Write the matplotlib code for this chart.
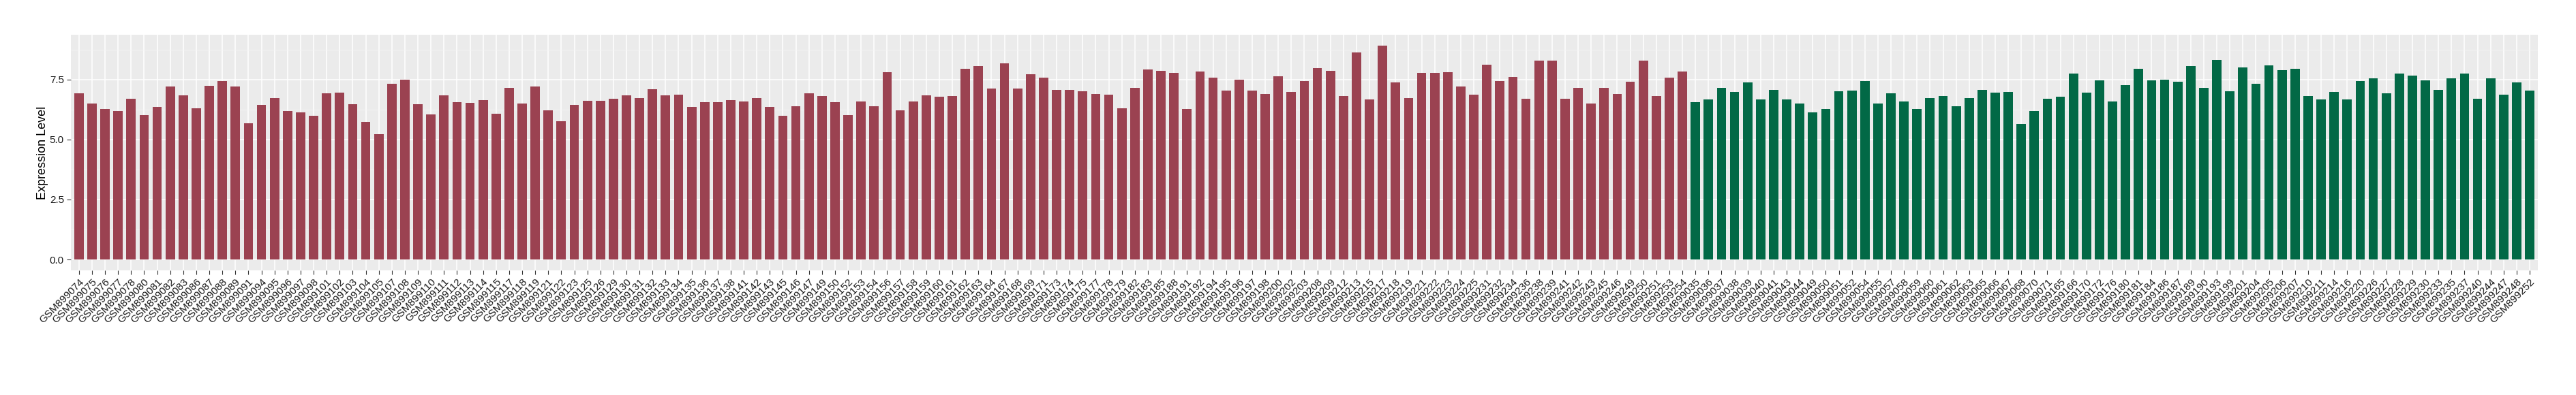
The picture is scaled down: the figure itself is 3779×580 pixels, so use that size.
import numpy as np
import matplotlib.pyplot as plt
from matplotlib.ticker import MultipleLocator

plt.rcParams['font.family'] = ['Liberation Sans', 'DejaVu Sans']

# group 1 (red) sample ids and expression levels
ids_red = ['074', '075', '076', '077', '078', '080', '081', '082', '083', '086', '087',
           '088', '089', '091', '094', '095', '096', '097', '098', '101', '102', '103',
           '104', '105', '107', '108', '109', '110', '111', '112', '113', '114', '115',
           '117', '118', '119', '121', '122', '123', '125', '126', '129', '130', '131',
           '132', '133', '134', '135', '136', '137', '138', '141', '142', '143', '145',
           '146', '147', '149', '150', '152', '153', '154', '156', '157', '158', '159',
           '160', '161', '162', '163', '164', '167', '168', '169', '171', '173', '174',
           '175', '177', '178', '179', '182', '183', '185', '188', '191', '192', '194',
           '195', '196', '197', '198', '200', '202', '203', '208', '209', '212', '213',
           '215', '217', '218', '219', '221', '222', '223', '224', '225', '231', '232',
           '234', '236', '238', '239', '241', '242', '243', '245', '246', '249', '250',
           '251', '253', '254']
vals_red = [6.92, 6.49, 6.26, 6.19, 6.70, 6.02, 6.37, 7.21, 6.85, 6.31, 7.25,
            7.43, 7.21, 5.67, 6.44, 6.74, 6.19, 6.13, 5.98, 6.92, 6.95, 6.46,
            5.72, 5.21, 7.31, 7.49, 6.46, 6.05, 6.85, 6.55, 6.52, 6.64, 6.08,
            7.15, 6.49, 7.21, 6.23, 5.77, 6.44, 6.62, 6.62, 6.70, 6.85, 6.72,
            7.10, 6.85, 6.88, 6.37, 6.56, 6.56, 6.64, 6.59, 6.74, 6.37, 5.98,
            6.38, 6.92, 6.82, 6.56, 6.01, 6.59, 6.38, 7.82, 6.23, 6.59, 6.85,
            6.77, 6.80, 7.94, 8.05, 7.13, 8.18, 7.13, 7.72, 7.59, 7.07, 7.07,
            7.00, 6.90, 6.88, 6.31, 7.15, 7.93, 7.87, 7.77, 6.26, 7.84, 7.57,
            7.03, 7.49, 7.03, 6.90, 7.64, 6.97, 7.43, 7.97, 7.87, 6.82, 8.62,
            6.67, 8.92, 7.39, 6.74, 7.79, 7.79, 7.82, 7.21, 6.88, 8.12, 7.43,
            7.61, 6.70, 8.30, 8.28, 6.70, 7.15, 6.49, 7.15, 6.90, 7.41, 8.30,
            6.80, 7.59, 7.84]

# group 2 (green)
ids_green = ['035', '036', '037', '038', '039', '040', '041', '043', '044', '049', '050',
             '051', '052', '054', '055', '057', '058', '059', '060', '061', '062', '063',
             '065', '066', '067', '068', '070', '071', '165', '166', '170', '172', '176',
             '180', '181', '184', '186', '187', '189', '190', '193', '199', '201', '204',
             '205', '206', '207', '210', '211', '214', '216', '220', '226', '227', '228',
             '229', '230', '233', '235', '237', '240', '244', '247', '248', '252']
vals_green = [6.56, 6.67, 7.15, 6.97, 7.39, 6.67, 7.06, 6.67, 6.49, 6.13, 6.28,
              7.00, 7.03, 7.43, 6.49, 6.92, 6.59, 6.28, 6.74, 6.82, 6.38, 6.72,
              7.07, 6.95, 6.97, 5.65, 6.19, 6.70, 6.77, 7.75, 6.95, 7.46, 6.59,
              7.28, 7.94, 7.46, 7.49, 7.41, 8.05, 7.15, 8.33, 7.00, 8.00, 7.31,
              8.08, 7.90, 7.94, 6.80, 6.67, 6.97, 6.67, 7.43, 7.54, 6.92, 7.75,
              7.66, 7.46, 7.06, 7.54, 7.75, 6.70, 7.54, 6.88, 7.39, 7.03]

labels = ['GSM899' + s for s in ids_red + ids_green]
values = np.array(vals_red + vals_green)
colors = ['#9B4251'] * len(vals_red) + ['#026946'] * len(vals_green)

fig = plt.figure(figsize=(37.8, 5.8), dpi=100)
ax = fig.add_axes([0.0276, 0.316, 0.9572, 0.596])

x = np.arange(len(values))
ax.set_facecolor('#EBEBEB')
ax.set_axisbelow(True)
ax.bar(x, values, width=0.72, color=colors, zorder=2)

# ggplot-like 5% expansion
ymax = values.max()
ax.set_ylim(-0.05 * ymax, 1.05 * ymax)
ax.set_xlim(-0.6, len(values) - 1 + 0.6)

ax.yaxis.set_minor_locator(MultipleLocator(1.25))
ax.set_yticks([0, 2.5, 5.0, 7.5])
ax.set_yticklabels(['0.0', '2.5', '5.0', '7.5'])
ax.grid(True, which='major', color='white', linewidth=1.1)
ax.grid(True, which='minor', axis='y', color='#F5F5F5', linewidth=0.6)

ax.set_xticks(x)
ax.set_xticklabels(labels, rotation=45, ha='right', va='top', rotation_mode='anchor')
ax.tick_params(axis='both', which='major', labelsize=11, colors='#333333',
               length=4, width=0.8, labelcolor='#1A1A1A')
ax.tick_params(axis='y', which='minor', length=0)
ax.tick_params(axis='x', pad=3)

for s in ax.spines.values():
    s.set_visible(False)

ax.set_ylabel('Expression Level', fontsize=13, labelpad=1)

fig.savefig('out.png', dpi=100)
